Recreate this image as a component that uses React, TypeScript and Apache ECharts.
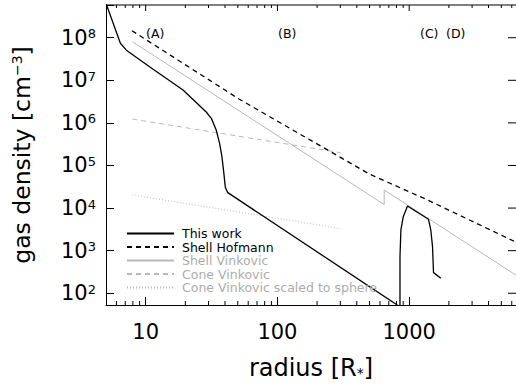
import React, { useEffect, useRef } from "react";
import * as echarts from "echarts";

// ---- data ----
const thisWorkX = [5, 6.43, 7.14, 10.7, 19.2, 28.8, 31.5, 34.3, 36.4, 37.9, 39.2, 40.2, 42.0, 851, 851, 865, 901, 971, 1400, 1458, 1503, 1529, 1738];
const thisWorkY = [6.4e8, 7.4e7, 5.1e7, 2.08e7, 5.9e6, 1.8e6, 1.28e6, 6.8e5, 3.3e5, 1.61e5, 6.6e4, 3.1e4, 2.3e4, 48, 723, 3060, 6280, 1.12e4, 5460, 3060, 1240, 305, 225];

const hofmannX = [7.87, 51.5, 498, 1340, 6460];
const hofmannY = [1.46e8, 3.58e6, 6.3e4, 1.61e4, 1585];

const shellVinkX = [7.93, 646, 646, 6460];
const shellVinkY = [8.05e7, 1.21e4, 2.66e4, 266];

const coneVinkX = [7.93, 300];
const coneVinkY = [1.23e6, 2.0e5];

const coneScaledX = [7.93, 300];
const coneScaledY = [2.04e4, 3.3e3];

const regionLabels = ["(A)", "(B)", "(C)", "(D)"];
const minorTickValues = [6, 7, 8, 9, 20, 30, 40, 50, 60, 70, 80, 90, 200, 300, 400, 500, 600, 700, 800, 900, 2000, 3000, 4000, 5000, 6000];
const majorTickValues = [10, 100, 1000];
const rightTickValues = [1e2, 1e3, 1e4, 1e5, 1e6, 1e7, 1e8];

const X_MIN = 5;
const X_MAX = 6462;
const Y_MIN = 53;
const Y_MAX = 5.86e8;

const FONT = "DejaVu Sans";
const GRAY = "#b9b9b9";
const GRAY_TEXT = "#acacac";

const zip = (xs: number[], ys: number[]) => xs.map((x, i) => [x, ys[i]]);
const isPow10 = (v: number) => {
  const l = Math.log10(v);
  return Math.abs(l - Math.round(l)) < 1e-6;
};

export default function App() {
  const ref = useRef<HTMLDivElement>(null);
  useEffect(() => {
    document.body.style.margin = "0";
    document.body.style.overflow = "hidden";
    if (!ref.current) return;
    const chart = echarts.init(ref.current, undefined, { renderer: "svg" });
    const axisLineStyle = { color: "#000", width: 1 };
    const tickLine = (x1: number, y1: number, x2: number, y2: number) => ({
      type: "line",
      shape: { x1, y1, x2, y2 },
      style: { stroke: "#000", lineWidth: 1 },
    });
    const option: any = {
      animation: false,
      backgroundColor: "#fff",
      // the plot frame runs just past the right edge of the picture, as in the reference
      grid: { left: 106, right: -1, top: 5, bottom: 82, containLabel: false },
      xAxis: {
        type: "log",
        logBase: 10,
        min: X_MIN,
        max: X_MAX,
        position: "bottom",
        axisLine: { show: true, onZero: false, lineStyle: axisLineStyle },
        axisTick: { show: true, inside: true, length: 8, lineStyle: axisLineStyle },
        splitLine: { show: false },
        axisLabel: {
          margin: 16,
          fontFamily: FONT,
          fontSize: 21,
          color: "#000",
          showMaxLabel: false,
          formatter: (v: number) => (isPow10(v) ? String(Math.round(v)) : ""),
        },
        name: "{t|radius [R}{u|*}{t|]}",
        nameLocation: "middle",
        nameGap: 51,
        nameTextStyle: {
          rich: {
            t: { fontFamily: FONT, fontSize: 24, color: "#000" },
            u: { fontFamily: FONT, fontSize: 14, color: "#000", verticalAlign: "bottom" },
          },
        },
      },
      yAxis: {
        type: "log",
        logBase: 10,
        min: Y_MIN,
        max: Y_MAX,
        position: "left",
        axisLine: { show: true, onZero: false, lineStyle: axisLineStyle },
        axisTick: { show: true, inside: true, length: 8, lineStyle: axisLineStyle },
        splitLine: { show: false },
        axisLabel: {
          margin: 10,
          formatter: (v: number) => (isPow10(v) ? `{b|10}{s|${Math.round(Math.log10(v))}}` : ""),
          rich: {
            b: { fontFamily: FONT, fontSize: 21, color: "#000" },
            s: { fontFamily: FONT, fontSize: 13, color: "#000", verticalAlign: "top" },
          },
        },
        name: "{t|gas density [cm}{s|−3}{t|]}",
        nameLocation: "middle",
        nameRotate: 90,
        nameGap: 72,
        nameTextStyle: {
          rich: {
            t: { fontFamily: FONT, fontSize: 23.5, color: "#000" },
            s: { fontFamily: FONT, fontSize: 14, color: "#000", verticalAlign: "top" },
          },
        },
      },
      legend: {
        orient: "vertical",
        left: 126,
        top: 227,
        padding: 0,
        itemWidth: 47,
        itemHeight: 12,
        itemGap: 0.5,
        selectedMode: false,
        itemStyle: { opacity: 0 },
        textStyle: { fontFamily: FONT, fontSize: 12.5, lineHeight: 12, padding: [0, 0, 0, 3] },
        data: [
          { name: "This work", textStyle: { color: "#000" } },
          { name: "Shell Hofmann", textStyle: { color: "#000" } },
          { name: "Shell Vinkovic", textStyle: { color: GRAY_TEXT } },
          { name: "Cone Vinkovic", textStyle: { color: GRAY_TEXT } },
          { name: "Cone Vinkovic scaled to sphere", textStyle: { color: GRAY_TEXT } },
        ],
      },
      series: [
        {
          name: "Cone Vinkovic scaled to sphere",
          type: "line",
          symbol: "none",
          data: zip(coneScaledX, coneScaledY),
          lineStyle: { color: GRAY, width: 1, type: [1, 2] },
          itemStyle: { color: GRAY },
        },
        {
          name: "Cone Vinkovic",
          type: "line",
          symbol: "none",
          data: zip(coneVinkX, coneVinkY),
          lineStyle: { color: GRAY, width: 1, type: [5, 4] },
          itemStyle: { color: GRAY },
        },
        {
          name: "Shell Vinkovic",
          type: "line",
          symbol: "none",
          data: zip(shellVinkX, shellVinkY),
          lineStyle: { color: GRAY, width: 1 },
          itemStyle: { color: GRAY },
        },
        {
          name: "Shell Hofmann",
          type: "line",
          symbol: "none",
          data: zip(hofmannX, hofmannY),
          lineStyle: { color: "#000", width: 1.3, type: [5, 4] },
          itemStyle: { color: "#000" },
        },
        {
          name: "This work",
          type: "line",
          symbol: "none",
          data: zip(thisWorkX, thisWorkY),
          lineStyle: { color: "#000", width: 1.3 },
          itemStyle: { color: "#000" },
        },
        {
          name: "frameTicks",
          type: "custom",
          silent: true,
          clip: false,
          data: [[X_MIN, Y_MAX]],
          renderItem: (_params: any, api: any) => {
            const children: any[] = [];
            const tl = api.coord([X_MIN, Y_MAX]);
            const tr = api.coord([X_MAX, Y_MAX]);
            children.push(tickLine(tl[0], tl[1], tr[0], tr[1]));
            minorTickValues.forEach((v) => {
              const b = api.coord([v, Y_MIN]);
              const t = api.coord([v, Y_MAX]);
              children.push(tickLine(b[0], b[1], b[0], b[1] - 4));
              children.push(tickLine(t[0], t[1], t[0], t[1] + 3));
            });
            majorTickValues.forEach((v) => {
              const t = api.coord([v, Y_MAX]);
              children.push(tickLine(t[0], t[1], t[0], t[1] + 6));
            });
            rightTickValues.forEach((v) => {
              const p = api.coord([X_MAX, v]);
              children.push(tickLine(p[0], p[1], p[0] - 8, p[1]));
            });
            return { type: "group", children };
          },
        },
      ],
      graphic: [
        { type: "text", left: 146, top: 27, style: { text: regionLabels[0], fontFamily: FONT, fontSize: 12.5, fill: "#000" } },
        { type: "text", left: 278, top: 27, style: { text: regionLabels[1], fontFamily: FONT, fontSize: 12.5, fill: "#000" } },
        { type: "text", left: 420, top: 27, style: { text: regionLabels[2], fontFamily: FONT, fontSize: 12.5, fill: "#000" } },
        { type: "text", left: 446, top: 27, style: { text: regionLabels[3], fontFamily: FONT, fontSize: 12.5, fill: "#000" } },
      ],
    };
    chart.setOption(option);
    return () => chart.dispose();
  }, []);
  return <div ref={ref} style={{ width: 516, height: 387 }} />;
}
